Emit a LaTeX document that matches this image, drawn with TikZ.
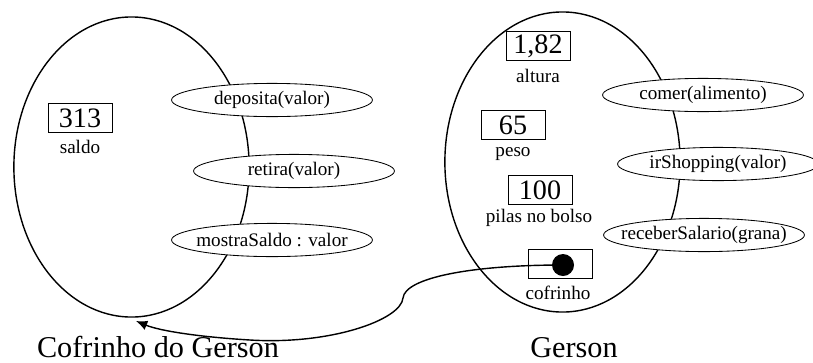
\documentclass[tikz,border=0pt]{standalone}
\usepackage{fontspec}
\setmainfont{Liberation Serif}
\usetikzlibrary{arrows.meta,shapes.geometric}

\begin{document}
\begin{tikzpicture}[x=0.025cm,y=-0.025cm,
    objeto/.style={draw,line width=1pt},
    metodo/.style={draw,fill=white,ellipse,inner xsep=-0.35cm,inner ysep=0pt,minimum width=5.02cm,
        minimum height=0.83cm,line width=0.6pt,font=\fontsize{13.6}{15}\selectfont},
    valor/.style={draw,inner sep=0pt,minimum width=1.6cm,minimum height=0.73cm,line width=0.6pt,
        font=\fontsize{20}{22}\selectfont},
    rotulo/.style={inner sep=1pt,font=\fontsize{13.6}{15}\selectfont},
    titulo/.style={inner sep=0pt,anchor=base,font=\fontsize{21.5}{23}\selectfont}]
\useasboundingbox (0,0) rectangle (813,362);
    % Primeiro objeto: o cofrinho
    \draw[objeto] (131.5,167) ellipse (2.94cm and 3.75cm);
    \node[valor] (v1) at (80,118) {313};
    \node[rotulo] (r1) at (80,147) {saldo};
    \node[metodo] (m1) at (272,100) {deposita(valor)};
    \node[metodo] (m2) at (294,171) {retira(valor)};
    \node[metodo] (m3) at (272,240) {mostraSaldo : valor};
    \node[titulo] (t1) at (158,357.5) {Cofrinho do Gerson};
    % Segundo objeto: o Gerson
    \draw[objeto] (562.5,162) ellipse (2.94cm and 3.75cm);
    \node[valor] (v2) at (538,46) {1,82};
    \node[rotulo] (r2) at (538,76) {altura};
    \node[valor] (v3) at (513,125) {65};
    \node[rotulo] (r3) at (513,154) {peso};
    \node[valor] (v4) at (540,190) {100};
    \node[rotulo] (r4) at (539,218) {pilas no bolso};
    \node[valor] (v5) at (560,264) {};
    \node[rotulo] (r5) at (558,293) {cofrinho};
    \node[metodo] (m4) at (703,95) {comer(alimento)};
    \node[metodo] (m5) at (718,164) {irShopping(valor)};
    \node[metodo] (m6) at (704,235) {receberSalario(grana)};
    \node[titulo] (t2) at (574,357.5) {Gerson};
    % Referencia do Gerson para o cofrinho
    \node[circle,fill=black,inner sep=0pt,minimum size=0.55cm] (p1) at (563,265) {};
    \coordinate (c1) at (136,321);
    \draw[line width=1pt,-{Latex[length=8pt,width=7pt]}] (p1.center)
        .. controls (470,265) and (405,278) .. (403,298)
        .. controls (401,320) and (330,345) .. (250,340)
        .. controls (200,337) and (160,331) .. (c1);
\end{tikzpicture}
\end{document}
